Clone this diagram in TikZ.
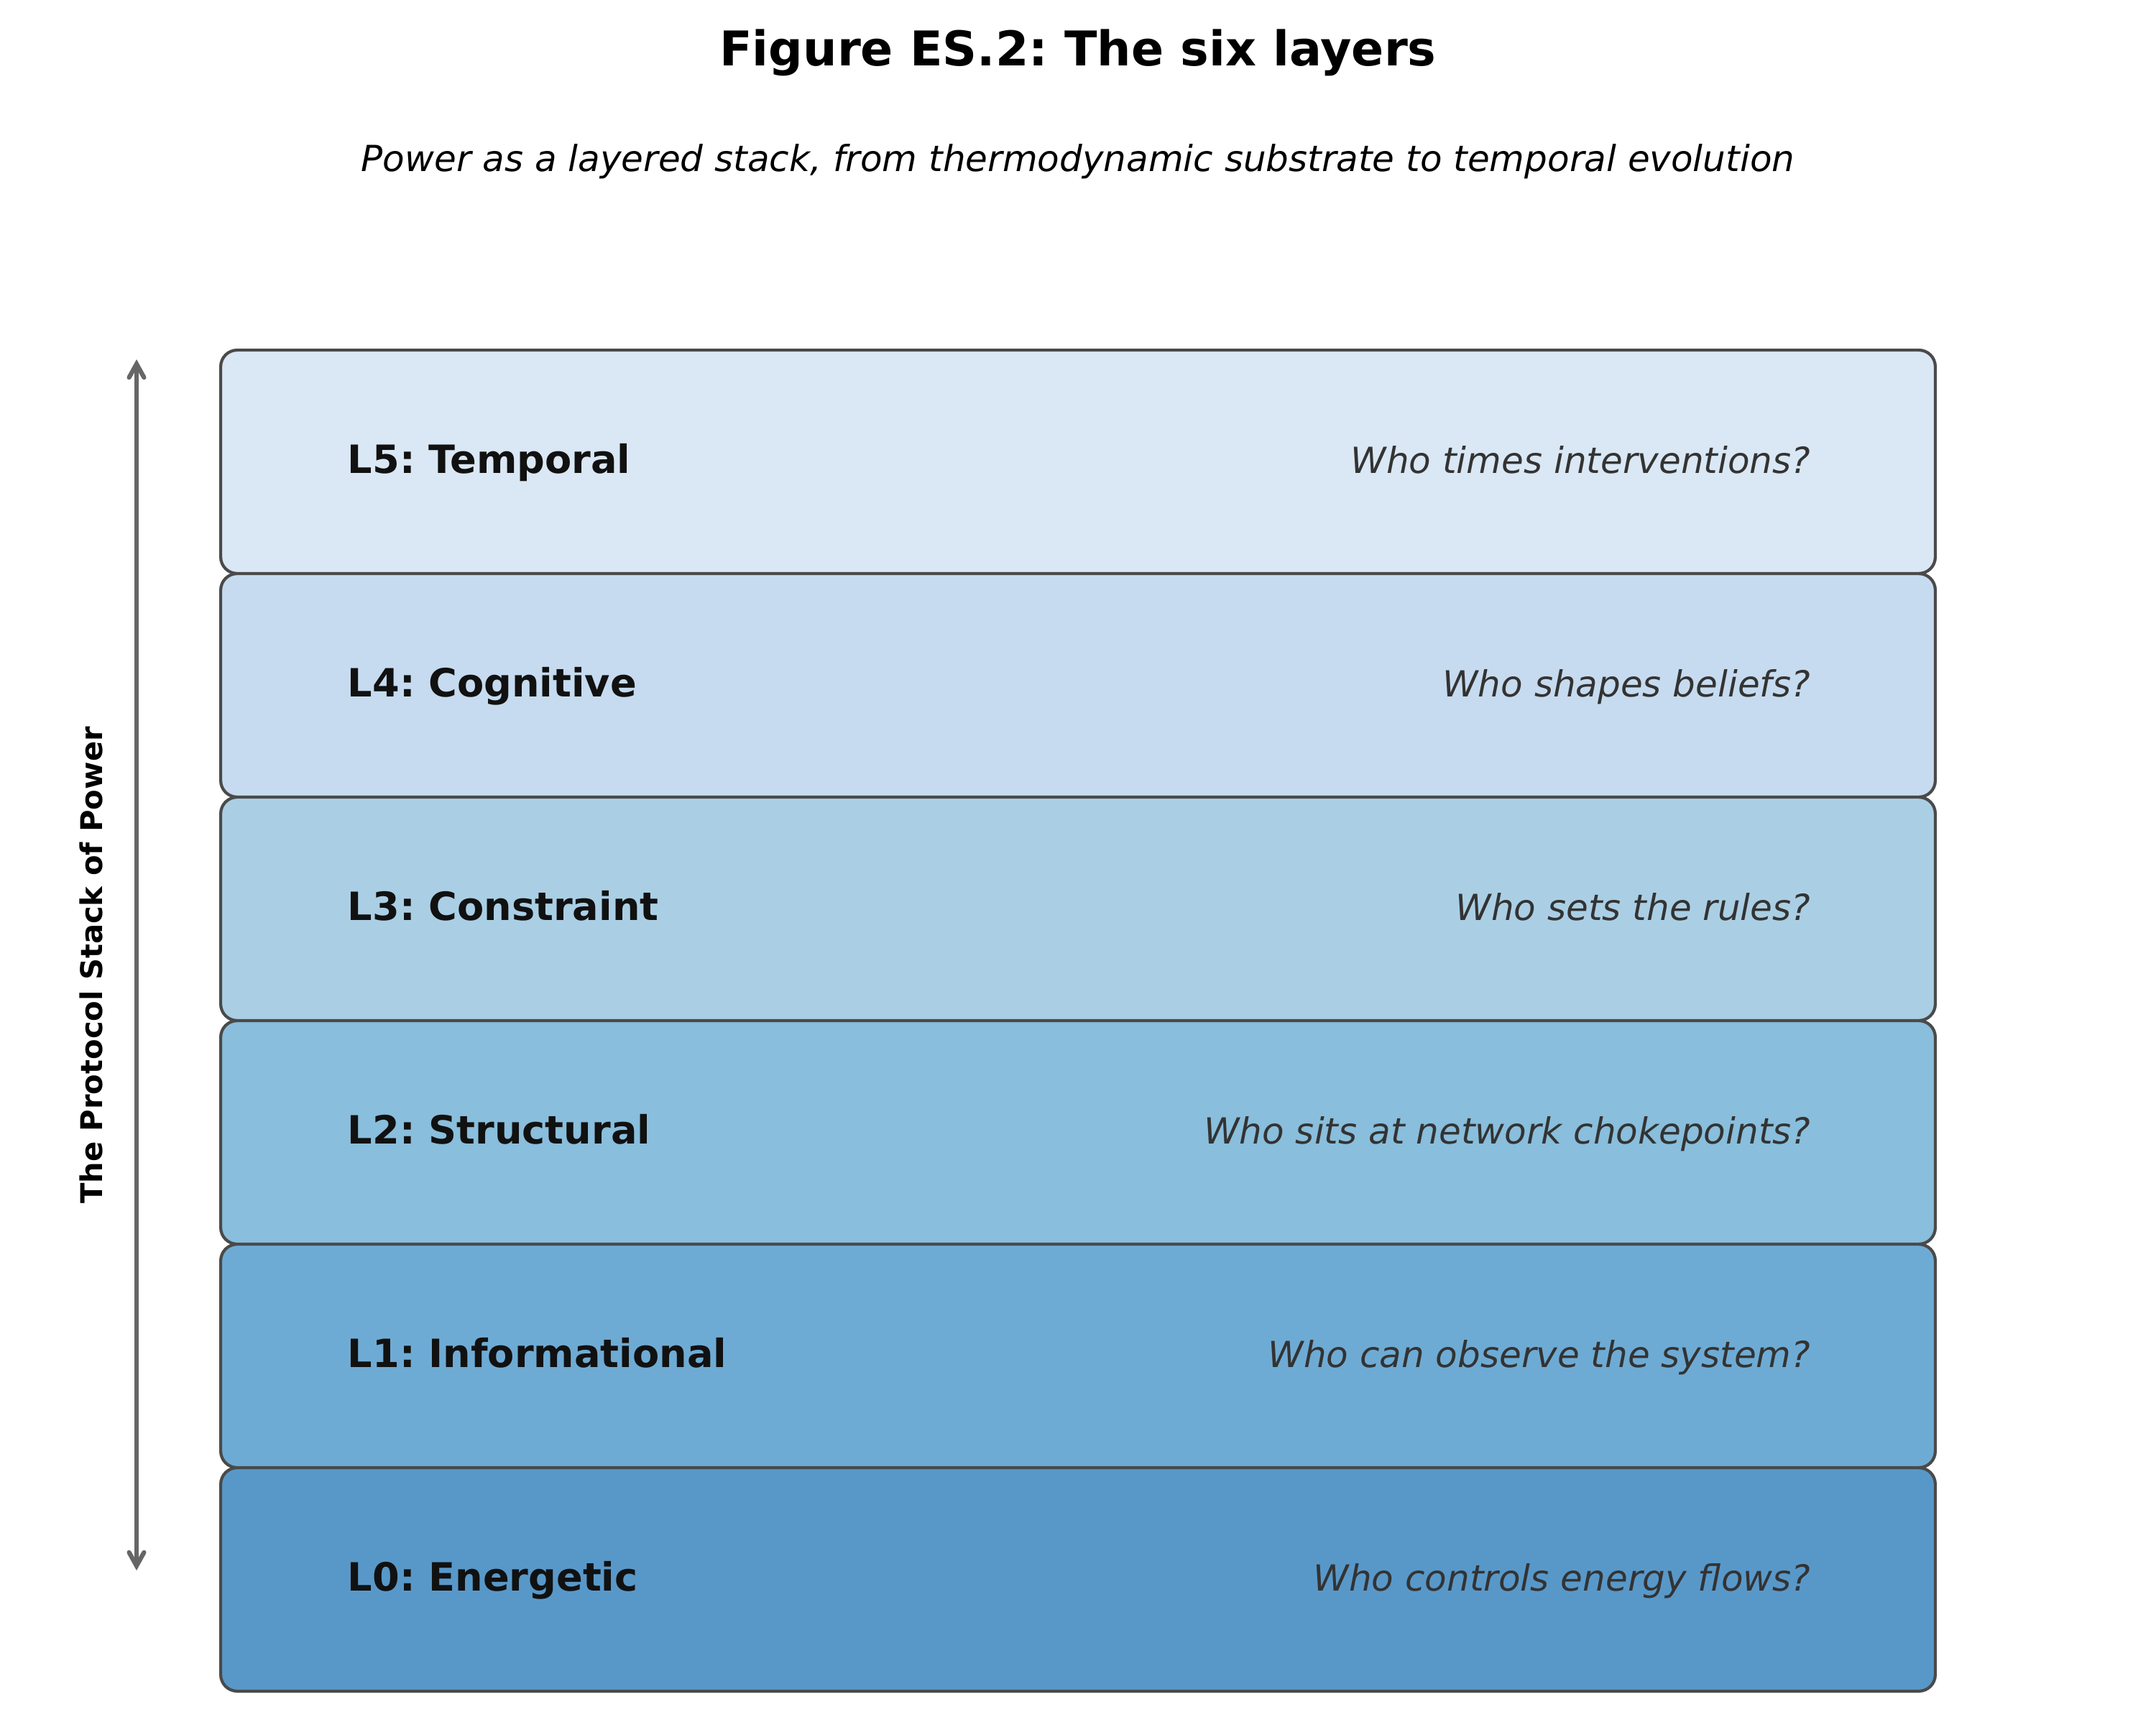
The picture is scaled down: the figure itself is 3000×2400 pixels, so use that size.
\documentclass[tikz,border=0pt]{standalone}
\usepackage{fontspec}
\setmainfont{DejaVu Sans}
\usepackage{tikz}
\usetikzlibrary{arrows.meta, positioning, calc}
\usepackage{xcolor}
\frenchspacing
\definecolor{fillfive}{HTML}{DAE7F4}
\definecolor{fillfour}{HTML}{C6DBEF}
\definecolor{fillthree}{HTML}{AACFE5}
\definecolor{filltwo}{HTML}{89BEDC}
\definecolor{fillone}{HTML}{6EABD4}
\definecolor{fillzero}{HTML}{5898C9}
\definecolor{boxedge}{HTML}{4A4A4A}
\definecolor{nameink}{HTML}{111111}
\definecolor{askink}{HTML}{333333}
\definecolor{stackgray}{HTML}{666666}

\begin{document}
\begin{tikzpicture}[x=0.24pt, y=-0.24pt,
  layerbox/.style={draw=boxedge, line width=1pt, rounded corners=5.5pt,
    minimum width=572.6pt, minimum height=74.6pt, inner sep=0pt},
  layername/.style={font=\fontsize{13}{15}\selectfont\bfseries, text=nameink, inner sep=0pt},
  question/.style={font=\fontsize{12}{14}\selectfont\itshape, text=askink, inner sep=0pt},
  stackarrow/.style={draw=stackgray, line width=1.5pt,
    {Straight Barb[length=4.5pt,width=5pt,line cap=round]}-{Straight Barb[length=4.5pt,width=5pt,line cap=round]}}]
  \useasboundingbox (0,0) rectangle (3000,2400);
  % heading
  \node[font=\fontsize{16}{19}\selectfont\bfseries, anchor=base, inner sep=0pt] (title) at (1500,92) {Figure ES.2: The six layers};
  \node[font=\fontsize{12}{14}\selectfont\itshape, anchor=base, inner sep=0pt] (subtitle) at (1500,239) {Power as a layered stack, from thermodynamic substrate to temporal evolution};
  % the stack, top layer first so lower ones sit on top
  \foreach \i/\nm/\q/\col in {5/Temporal/{Who times interventions?}/fillfive,
      4/Cognitive/{Who shapes beliefs?}/fillfour,
      3/Constraint/{Who sets the rules?}/fillthree,
      2/Structural/{Who sits at network chokepoints?}/filltwo,
      1/Informational/{Who can observe the system?}/fillone,
      0/Energetic/{Who controls energy flows?}/fillzero} {
    \node[layerbox, fill=\col] (l\i) at (1500,{2353-311*(\i+0.5)}) {};
    \node[layername, anchor=base west] (l\i name) at ($(l\i.west)+(178,16)$) {L\i: \nm};
    \node[question, anchor=base east] (l\i ask) at ($(l\i.east)+(-175,16)$) {\q};
  }
  % side axis
  \coordinate (stacktop) at (190,500);
  \coordinate (stackbot) at (190,2185);
  \draw[stackarrow] (stackbot) -- (stacktop);
  \node[font=\fontsize{10}{12}\selectfont\bfseries, rotate=90, anchor=base, inner sep=0pt] (stacklabel) at (142,1343) {The Protocol Stack of Power};
\end{tikzpicture}
\end{document}
